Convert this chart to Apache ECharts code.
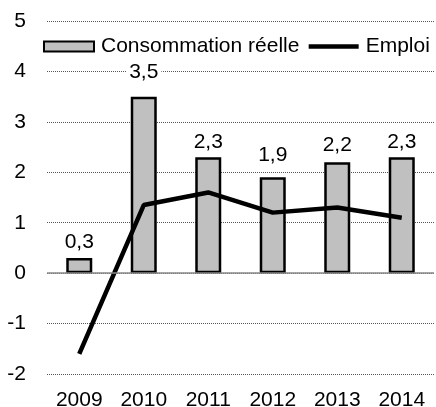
<!DOCTYPE html>
<html><head><meta charset="utf-8">
<script src="https://cdn.jsdelivr.net/npm/echarts@6/dist/echarts.min.js"></script>
<style>html,body{margin:0;padding:0;background:#fff}#c{width:436px;height:407px}</style>
</head><body><div id="c"></div>
<script>
const categories = ['2009','2010','2011','2012','2013','2014'];
const consommation = [0.3, 3.5, 2.3, 1.9, 2.2, 2.3];
const emploi = [-1.6, 1.35, 1.6, 1.2, 1.3, 1.1];
const yTicks = { min: -2, max: 5, interval: 1 };

const labelDistances = [5, 14, 4, 12, 6, 4];
const font = 'Liberation Sans, Arial, sans-serif';
const fs = 21;

const chart = echarts.init(document.getElementById('c'), null, {renderer:'canvas'});
chart.setOption({
  animation: false,
  backgroundColor: '#fff',
  textStyle: { fontFamily: font },
  legend: {
    left: 43, top: 36, padding: 0, width: 430,
    itemWidth: 50, itemHeight: 10, itemGap: 7,
    textStyle: { fontSize: fs, color: '#000', fontFamily: font, padding: [0,0,0,2] },
    data: [
      { name: 'Consommation réelle', icon: 'rect' },
      { name: 'Emploi', itemStyle: { opacity: 0 }, lineStyle: { width: 4.5, color: '#000' } }
    ]
  },
  grid: { left: 47, right: 2, top: 21, bottom: 33, containLabel: false, outerBoundsMode: 'none' },
  xAxis: {
    type: 'category', data: categories,
    axisLine: { show: false }, axisTick: { show: false },
    axisLabel: { fontSize: fs, color: '#000', margin: 16, fontFamily: font }
  },
  yAxis: {
    type: 'value', min: yTicks.min, max: yTicks.max, interval: yTicks.interval,
    axisLine: { show: false }, axisTick: { show: false },
    axisLabel: { fontSize: fs, color: '#000', margin: 21, fontFamily: font },
    splitLine: { lineStyle: { type: 'dotted', color: '#555', width: 1 } }
  },
  series: [
    {
      name: 'Consommation réelle', type: 'bar', barWidth: 26,
      itemStyle: { color: '#c0c0c0', borderColor: '#000', borderWidth: 2.5 },
      data: consommation.map((v, i) => ({
        value: v,
        label: { distance: labelDistances[i] }
      })),
      label: {
        show: true, position: 'top', fontSize: fs, color: '#000', fontFamily: font,
        backgroundColor: '#fff', padding: [0, 3],
        formatter: p => String(p.value).replace('.', ',')
      },
      markLine: {
        silent: true, symbol: 'none', label: { show: false },
        lineStyle: { color: '#888', width: 1.5, type: 'solid' },
        data: [{ yAxis: 0 }]
      },
      z: 2
    },
    {
      name: 'Emploi', type: 'line', data: emploi,
      symbol: 'none', showSymbol: false,
      lineStyle: { color: '#000', width: 4.5 },
      itemStyle: { color: '#000' },
      z: 3
    }
  ]
});
</script></body></html>
